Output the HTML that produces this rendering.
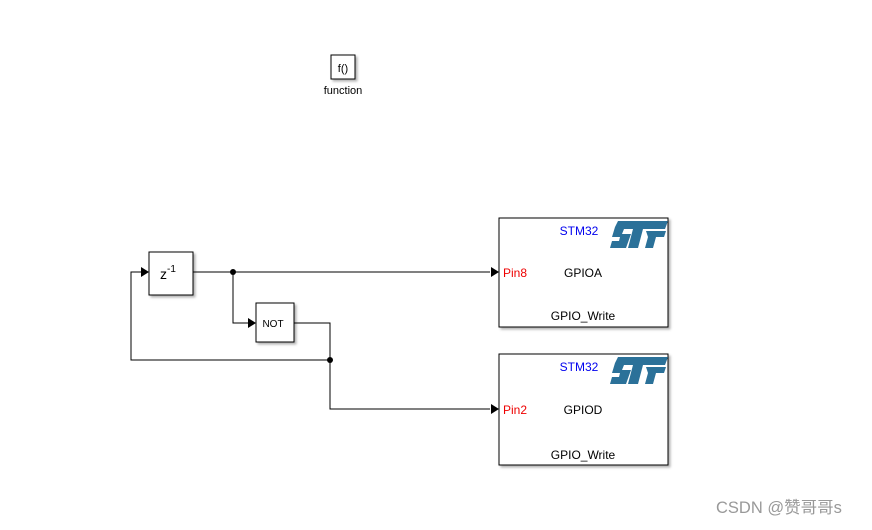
<!DOCTYPE html>
<html><head><meta charset="utf-8"><style>
body{margin:0;background:#fff;width:872px;height:525px;overflow:hidden;font-family:"Liberation Sans",Arial,sans-serif}
</style></head><body>
<svg width="872" height="525" xmlns="http://www.w3.org/2000/svg" font-family="Liberation Sans, Arial, sans-serif">
<defs>
<filter id="sh" x="-10%" y="-10%" width="130%" height="130%"><feDropShadow dx="2" dy="2" stdDeviation="1.2" flood-color="#000" flood-opacity="0.3"/></filter>
<g id="st">
<polygon points="6,0 56,0 53,8 31,8 26,27 16,27 21,8 12,8 10,13 19,13 14,27 -2,27 0,20 7,20 8,16 0,16 3,6" fill="#2b7199"/>
<polygon points="34,10 54,10 52,16 44,16 41,27 33,27 36,16" fill="#2b7199"/>
</g>
</defs>
<rect x="331" y="55" width="24" height="24" fill="#fff" stroke="#000" filter="url(#sh)"/>
<text x="343" y="72" font-size="11" text-anchor="middle">f()</text>
<text x="343" y="94" font-size="11" text-anchor="middle">function</text>

<g stroke="#000" stroke-width="1" fill="none">
<polyline points="193,272 490,272"/>
<polyline points="233,272 233,323 248,323"/>
<polyline points="294,323 330,323 330,409 490,409"/>
<polyline points="330,360 131,360 131,272 141,272"/>
</g>
<circle cx="233" cy="272" r="3" fill="#000"/>
<circle cx="330" cy="360" r="3" fill="#000"/>
<polygon points="141,267 149,272 141,277" fill="#000"/>
<polygon points="248,318 256,323 248,328" fill="#000"/>
<polygon points="491,267 499,272 491,277" fill="#000"/>
<polygon points="491,404 499,409 491,414" fill="#000"/>

<rect x="149" y="252" width="44" height="43" fill="#fff" stroke="#000" filter="url(#sh)"/>
<text x="160" y="279" font-size="14">z<tspan font-size="10" dy="-7">-1</tspan></text>
<rect x="256" y="303" width="38" height="39" fill="#fff" stroke="#000" filter="url(#sh)"/>
<text x="273" y="327" font-size="10" text-anchor="middle">NOT</text>

<rect x="499" y="218" width="169" height="109" fill="#fff" stroke="#000" filter="url(#sh)"/>
<text x="579" y="235" font-size="12" fill="#0000ee" text-anchor="middle">STM32</text>
<use href="#st" x="612" y="221"/>
<text x="503" y="277" font-size="12" fill="#e00">Pin8</text>
<text x="583" y="277" font-size="12" text-anchor="middle">GPIOA</text>
<text x="583" y="320" font-size="12" text-anchor="middle">GPIO_Write</text>

<rect x="499" y="354" width="169" height="111" fill="#fff" stroke="#000" filter="url(#sh)"/>
<text x="579" y="371" font-size="12" fill="#0000ee" text-anchor="middle">STM32</text>
<use href="#st" x="612" y="357"/>
<text x="503" y="414" font-size="12" fill="#e00">Pin2</text>
<text x="583" y="414" font-size="12" text-anchor="middle">GPIOD</text>
<text x="583" y="459" font-size="12" text-anchor="middle">GPIO_Write</text>

<text x="716" y="513" font-size="16.5" fill="#999" font-family="Liberation Sans, Noto Sans CJK SC, sans-serif">CSDN @赞哥哥s</text>
</svg>
</body></html>
